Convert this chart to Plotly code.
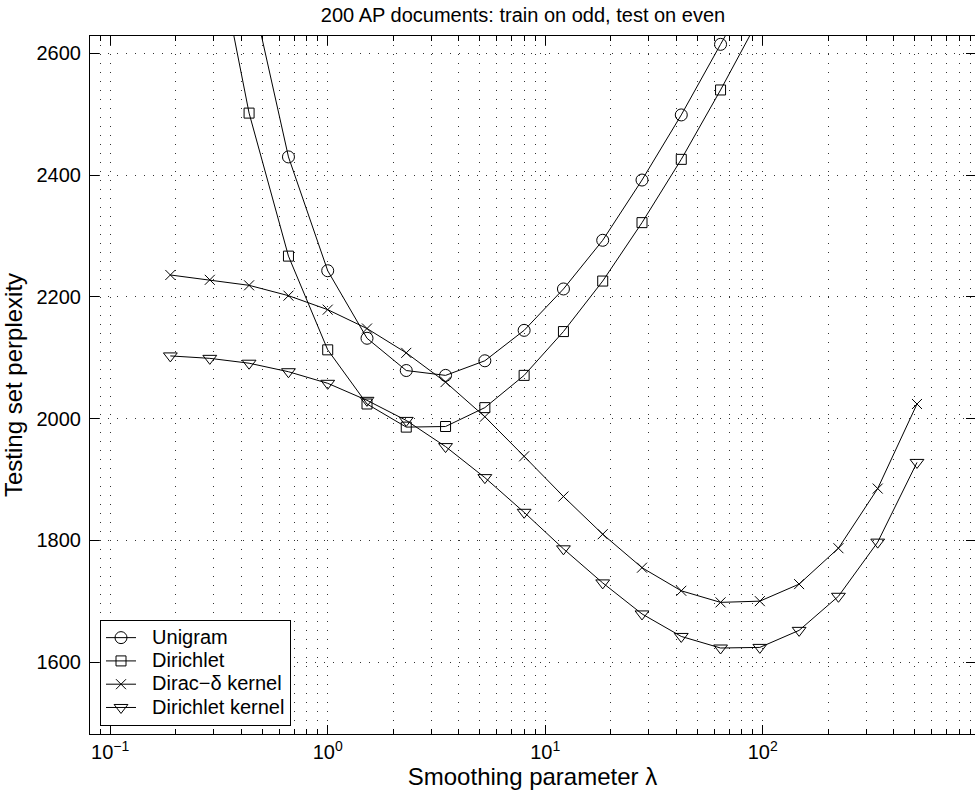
import plotly.graph_objects as go

# smoothing parameter values (x)
lam = [0.189, 0.287, 0.435, 0.660, 1.0, 1.516, 2.297, 3.482, 5.278, 8.0,
       12.13, 18.38, 27.86, 42.22, 64.0, 97.01, 147.0, 222.9, 337.8, 512.0]

unigram_lam = lam[2:16]
unigram = [2720, 2430, 2243, 2132, 2079, 2071, 2095, 2145, 2213, 2293, 2392, 2499, 2615, 2730]

dirichlet_lam = lam[1:16]
dirichlet = [2830, 2502, 2267, 2113, 2024, 1986, 1987, 2018, 2071, 2143, 2226, 2322, 2426, 2540, 2660]

dirac_lam = lam
dirac = [2236, 2228, 2219, 2202, 2179, 2148, 2108, 2060, 2003, 1938, 1872, 1810,
         1755, 1717, 1698, 1700, 1728, 1787, 1885, 2024]

dkern_lam = lam
dkern = [2103, 2099, 2091, 2077, 2058, 2030, 1997, 1954, 1903, 1846, 1786, 1730,
         1679, 1642, 1623, 1624, 1652, 1708, 1797, 1928]

x_tickvals = [0.1, 1, 10, 100]
x_ticktext = ["10<sup>\u22121</sup>", "10<sup>0</sup>", "10<sup>1</sup>", "10<sup>2</sup>"]
y_tickvals = [1600, 1800, 2000, 2200, 2400, 2600]

minor_vals = []
for dec in [0.01, 0.1, 1, 10, 100]:
    for m in range(2, 10):
        minor_vals.append(m * dec)

FONT = "Liberation Sans, Arial, Helvetica, sans-serif"

series = [
    ("Unigram", unigram_lam, unigram, "circle-open", 12),
    ("Dirichlet", dirichlet_lam, dirichlet, "square-open", 10),
    ("Dirac\u2212\u03b4 kernel", dirac_lam, dirac, "x-thin-open", 10),
    ("Dirichlet kernel", dkern_lam, dkern, "triangle-down-open", 12),
]

fig = go.Figure()
for name, xs, ys, sym, sz in series:
    fig.add_trace(go.Scatter(
        x=xs, y=ys,
        name='<span style="font-size:20px">\u00a0\u00a0' + name + '</span>',
        mode="lines+markers",
        line=dict(color="black", width=1),
        marker=dict(symbol=sym, size=sz, color="black", line=dict(width=1, color="black")),
    ))

grid_col = "#333"
grid_dash = "1px,8px"
fig.update_layout(
    width=975, height=797,
    margin=dict(l=90, r=0, t=36, b=63),
    paper_bgcolor="white", plot_bgcolor="white",
    font=dict(family=FONT, size=20, color="black"),
    title=dict(text="200 AP documents: train on odd, test on even",
               x=(523 / 975), xref="container", xanchor="center",
               y=1 - 15 / 797, yref="container", yanchor="middle",
               font=dict(size=20)),
    legend=dict(x=(100 - 90) / 885, y=(734 - 726) / 698, xanchor="left", yanchor="bottom",
                bgcolor="white", bordercolor="black", borderwidth=1,
                font=dict(size=15.6), tracegroupgap=0),
    showlegend=True,
)
fig.update_xaxes(
    type="log", range=[-1.0929, 2.976],
    tickvals=x_tickvals, ticktext=x_ticktext,
    ticks="inside", ticklen=9, tickcolor="black",
    showline=True, linecolor="black", linewidth=1, mirror="ticks",
    showgrid=True, gridcolor=grid_col, griddash=grid_dash, gridwidth=1,
    zeroline=False,
    minor=dict(tickvals=minor_vals, ticks="inside", ticklen=5, tickcolor="black",
               showgrid=True, gridcolor=grid_col, griddash=grid_dash, gridwidth=1),
    title=dict(text="Smoothing parameter \u03bb", standoff=6),
)
fig.update_yaxes(
    range=[1481.7, 2628.7],
    tickvals=y_tickvals,
    ticks="inside", ticklen=9, tickcolor="black",
    showline=True, linecolor="black", linewidth=1, mirror="ticks",
    showgrid=True, gridcolor=grid_col, griddash=grid_dash, gridwidth=1,
    zeroline=False, ticklabelstandoff=4,
    title=dict(text="Testing set perplexity", standoff=8),
)
fig.write_html("out.html")
